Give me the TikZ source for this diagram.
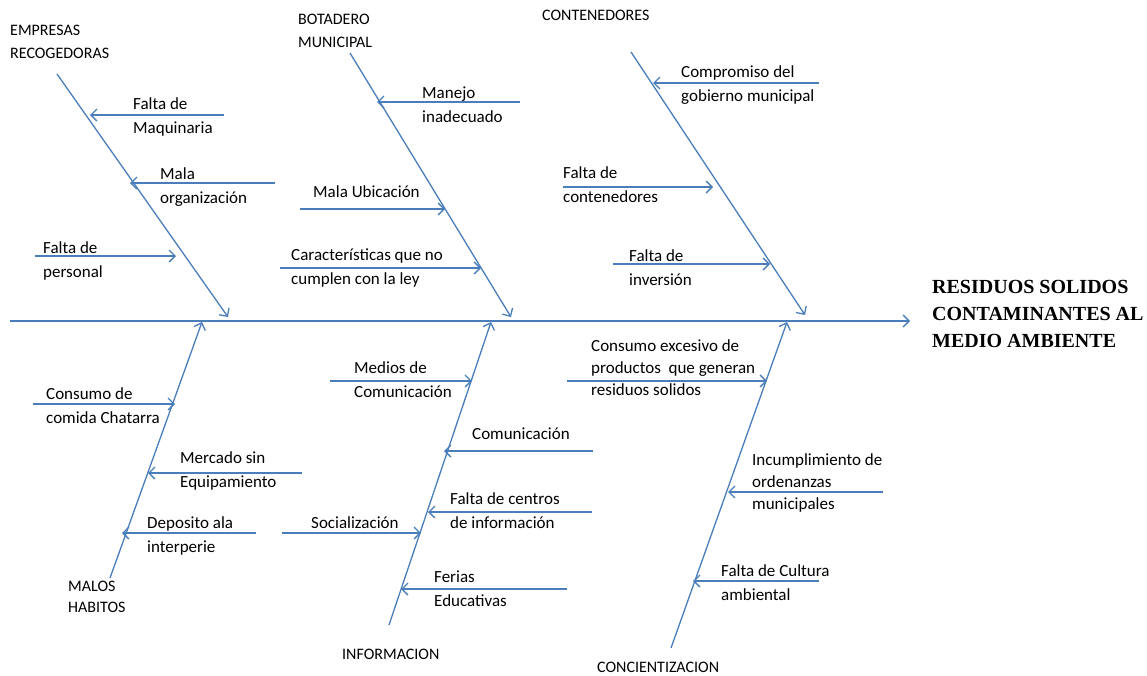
\documentclass[tikz,border=0pt]{standalone}
\usepackage{fontspec}
\setmainfont{Carlito}
\newfontfamily\effectfont{Liberation Serif}
\usetikzlibrary{arrows.meta}
\definecolor{boneblue}{HTML}{4A7EBB}
\begin{document}
\begin{tikzpicture}[x=1pt,y=-1pt,
  bone/.style={draw=boneblue,line width=1.3pt,-{Straight Barb[length=6pt,width=12pt]}},
  cause/.style={draw=boneblue,line width=1.3pt,-{Straight Barb[length=6pt,width=12pt]}},
  lbl/.style={anchor=base west,inner sep=0pt,align=left,text=black,font=\fontsize{17}{24}\selectfont},
  lblthree/.style={lbl,font=\fontsize{17}{22}\selectfont},
  cat/.style={anchor=base west,inner sep=0pt,align=left,text=black,font=\fontsize{16}{23}\selectfont},
  effect/.style={anchor=base west,inner sep=0pt,align=left,text=black,font=\effectfont\bfseries\fontsize{20}{27}\selectfont}]
\useasboundingbox (0,0) rectangle (1147,675);
\fill[white] (0,0) rectangle (1147,675);

% spine
\coordinate (sp0) at (10,321);
\coordinate (sp1) at (910,321);
\draw[bone] (sp0) -- (sp1);
\node[effect] (eff) at (932,347) {RESIDUOS SOLIDOS\\CONTAMINANTES AL\\MEDIO AMBIENTE};

% bones
\coordinate (b1s) at (57,74);   \coordinate (b1e) at (228,317);
\coordinate (b2s) at (350,53);  \coordinate (b2e) at (511,317);
\coordinate (b3s) at (631,52);  \coordinate (b3e) at (805,315);
\coordinate (b4s) at (110,578); \coordinate (b4e) at (202,322);
\coordinate (b5s) at (389,625); \coordinate (b5e) at (491,322);
\coordinate (b6s) at (671,648); \coordinate (b6e) at (787,322);
\draw[bone] (b1s) -- (b1e);
\draw[bone] (b2s) -- (b2e);
\draw[bone] (b3s) -- (b3e);
\draw[bone] (b4s) -- (b4e);
\draw[bone] (b5s) -- (b5e);
\draw[bone] (b6s) -- (b6e);

% category labels (anchor = baseline of last line)
\node[cat] (c1) at (10,58) {EMPRESAS\\RECOGEDORAS};
\node[cat] (c2) at (298,47) {BOTADERO\\MUNICIPAL};
\node[cat] (c3) at (542,20) {CONTENEDORES};
\node[cat,font=\fontsize{16}{21}\selectfont] (c4) at (68,612) {MALOS\\HABITOS};
\node[cat] (c5) at (342,659) {INFORMACION};
\node[cat] (c6) at (597,672) {CONCIENTIZACION};

% cause arrows
\coordinate (a11s) at (224,115); \coordinate (a11e) at (90,115);
\coordinate (a12s) at (275,183); \coordinate (a12e) at (130,183);
\coordinate (a13s) at (35,256);  \coordinate (a13e) at (176,256);
\coordinate (a21s) at (520,102); \coordinate (a21e) at (377,102);
\coordinate (a22s) at (300,209); \coordinate (a22e) at (445,209);
\coordinate (a23s) at (280,268); \coordinate (a23e) at (481,268);
\coordinate (a31s) at (819,83);  \coordinate (a31e) at (653,83);
\coordinate (a32s) at (563,187); \coordinate (a32e) at (713,187);
\coordinate (a33s) at (613,264); \coordinate (a33e) at (770,264);
\coordinate (a41s) at (33,404);  \coordinate (a41e) at (175,404);
\coordinate (a42s) at (302,473); \coordinate (a42e) at (148,473);
\coordinate (a43s) at (256,533); \coordinate (a43e) at (122,533);
\coordinate (a51s) at (330,381); \coordinate (a51e) at (472,381);
\coordinate (a52s) at (593,451); \coordinate (a52e) at (444,451);
\coordinate (a53s) at (592,512); \coordinate (a53e) at (428,512);
\coordinate (a54s) at (282,533); \coordinate (a54e) at (421,533);
\coordinate (a55s) at (567,589); \coordinate (a55e) at (401,589);
\coordinate (a61s) at (567,381); \coordinate (a61e) at (767,381);
\coordinate (a62s) at (883,492); \coordinate (a62e) at (728,492);
\coordinate (a63s) at (819,581); \coordinate (a63e) at (693,581);
\foreach \n in {11,12,13,21,22,23,31,32,33,41,42,43,51,52,53,54,55,61,62,63}
  \draw[cause] (a\n s) -- (a\n e);

% cause labels (anchor = baseline of last line)
\node[lbl] (t11) at (133,133) {Falta de\\Maquinaria};
\node[lbl] (t12) at (160,203) {Mala\\organización};
\node[lbl] (t13) at (43,277) {Falta de\\personal};
\node[lbl] (t21) at (422,122) {Manejo\\inadecuado};
\node[lbl] (t22) at (313,197) {Mala Ubicación};
\node[lbl] (t23) at (291,284) {Características que no\\cumplen con la ley};
\node[lbl] (t31) at (681,101) {Compromiso del\\gobierno municipal};
\node[lbl] (t32) at (563,202) {Falta de\\contenedores};
\node[lbl] (t33) at (629,285) {Falta de\\inversión};
\node[lbl] (t41) at (46,423) {Consumo de\\comida Chatarra};
\node[lbl] (t42) at (180,487) {Mercado sin\\Equipamiento};
\node[lbl] (t43) at (147,552) {Deposito ala\\interperie};
\node[lbl] (t51) at (354,397) {Medios de\\Comunicación};
\node[lbl] (t52) at (472,439) {Comunicación};
\node[lbl] (t53) at (450,528) {Falta de centros\\de información};
\node[lbl] (t54) at (311,528) {Socialización};
\node[lbl] (t55) at (434,606) {Ferias\\Educativas};
\node[lblthree] (t61) at (591,395) {Consumo excesivo de\\productos\ \ que generan\\residuos solidos};
\node[lblthree] (t62) at (752,509) {Incumplimiento de\\ordenanzas\\municipales};
\node[lbl] (t63) at (721,600) {Falta de Cultura\\ambiental};
\end{tikzpicture}
\end{document}
